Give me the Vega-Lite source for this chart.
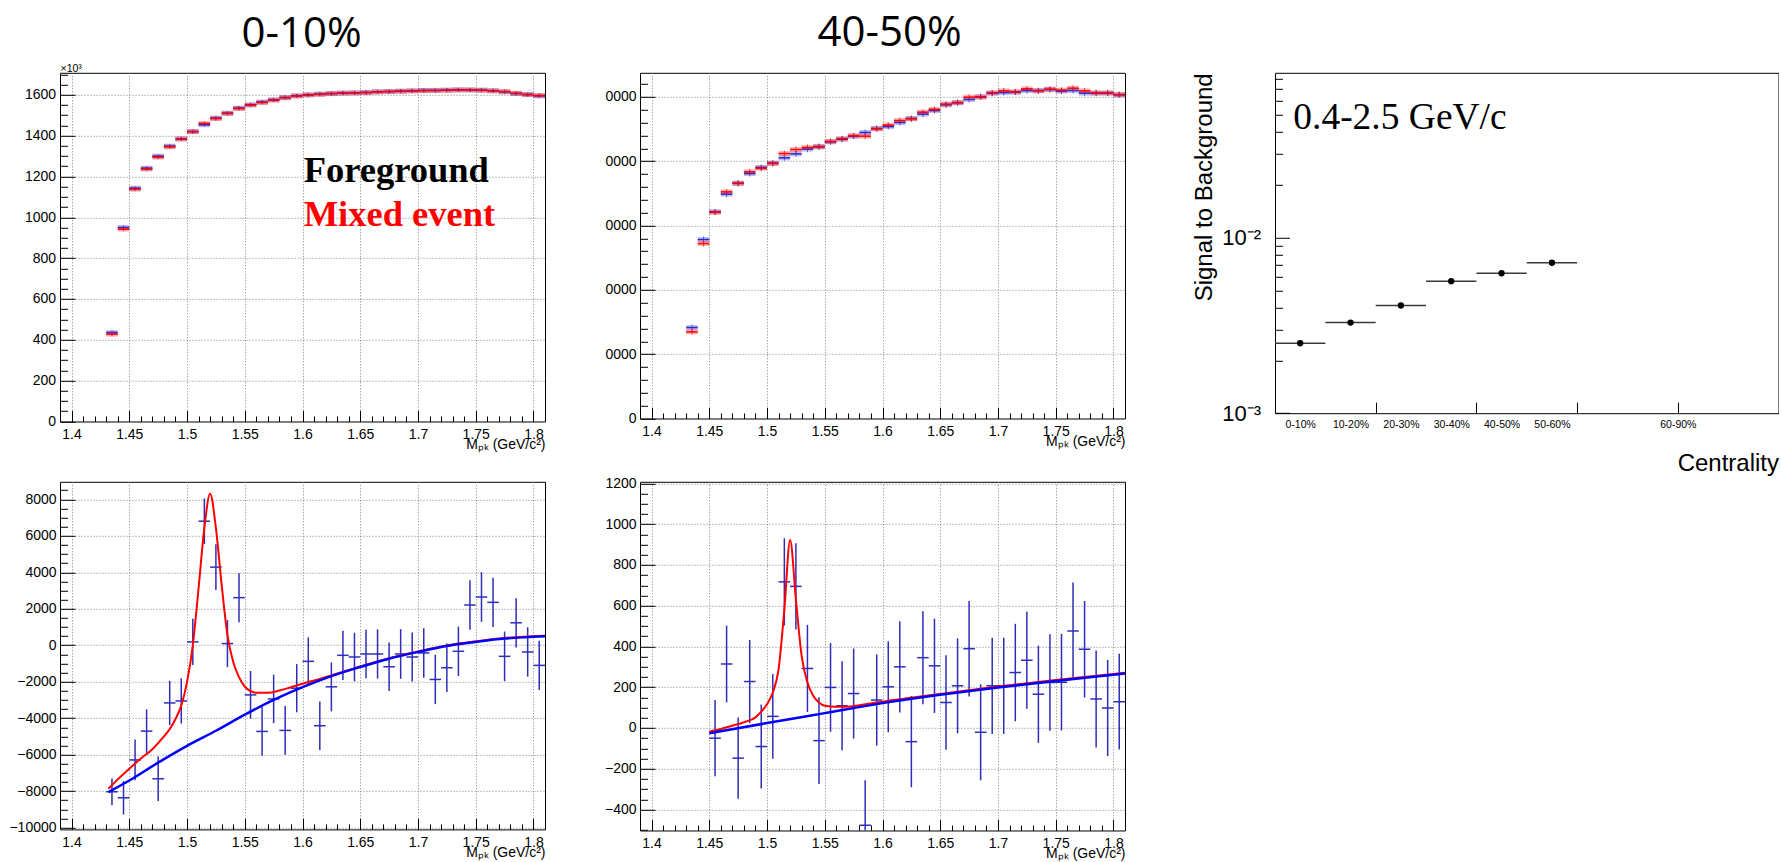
{
"$schema": "https://vega.github.io/schema/vega-lite/v6.json",
"background": "white",
"padding": {"left": 8, "top": 10.8, "right": 0, "bottom": 0},
"bounds": "flush",
"align": "each",
"columns": 5,
"spacing": {"row": 60, "column": 0},
"datasets": {
"p1": [
{"s":"F","x0":1.43,"x1":1.44,"m":1.435,"v":435.9},{"s":"F","x0":1.44,"x1":1.45,"m":1.445,"v":950.2},{"s":"F","x0":1.45,"x1":1.46,"m":1.455,"v":1142.9},{"s":"F","x0":1.46,"x1":1.47,"m":1.465,"v":1240.8},{"s":"F","x0":1.47,"x1":1.48,"m":1.475,"v":1299.6},{"s":"F","x0":1.48,"x1":1.49,"m":1.485,"v":1348.6},{"s":"F","x0":1.49,"x1":1.5,"m":1.495,"v":1384.5},{"s":"F","x0":1.5,"x1":1.51,"m":1.505,"v":1420.4},{"s":"F","x0":1.51,"x1":1.52,"m":1.515,"v":1453},{"s":"F","x0":1.52,"x1":1.53,"m":1.525,"v":1485.7},{"s":"F","x0":1.53,"x1":1.54,"m":1.535,"v":1510.2},{"s":"F","x0":1.54,"x1":1.55,"m":1.545,"v":1534.7},{"s":"F","x0":1.55,"x1":1.56,"m":1.555,"v":1551},{"s":"F","x0":1.56,"x1":1.57,"m":1.565,"v":1564.1},{"s":"F","x0":1.57,"x1":1.58,"m":1.575,"v":1575.5},{"s":"F","x0":1.58,"x1":1.59,"m":1.585,"v":1587},{"s":"F","x0":1.59,"x1":1.6,"m":1.595,"v":1595.1},{"s":"F","x0":1.6,"x1":1.61,"m":1.605,"v":1600},{"s":"F","x0":1.61,"x1":1.62,"m":1.615,"v":1603.3},{"s":"F","x0":1.62,"x1":1.63,"m":1.625,"v":1606.5},{"s":"F","x0":1.63,"x1":1.64,"m":1.635,"v":1608.2},{"s":"F","x0":1.64,"x1":1.65,"m":1.645,"v":1609.8},{"s":"F","x0":1.65,"x1":1.66,"m":1.655,"v":1611.4},{"s":"F","x0":1.66,"x1":1.67,"m":1.665,"v":1614.7},{"s":"F","x0":1.67,"x1":1.68,"m":1.675,"v":1616.3},{"s":"F","x0":1.68,"x1":1.69,"m":1.685,"v":1618},{"s":"F","x0":1.69,"x1":1.7,"m":1.695,"v":1619.6},{"s":"F","x0":1.7,"x1":1.71,"m":1.705,"v":1621.2},{"s":"F","x0":1.71,"x1":1.72,"m":1.715,"v":1621.2},{"s":"F","x0":1.72,"x1":1.73,"m":1.725,"v":1622.9},{"s":"F","x0":1.73,"x1":1.74,"m":1.735,"v":1624.5},{"s":"F","x0":1.74,"x1":1.75,"m":1.745,"v":1623.7},{"s":"F","x0":1.75,"x1":1.76,"m":1.755,"v":1622.9},{"s":"F","x0":1.76,"x1":1.77,"m":1.765,"v":1619.6},{"s":"F","x0":1.77,"x1":1.78,"m":1.775,"v":1614.7},{"s":"F","x0":1.78,"x1":1.79,"m":1.785,"v":1606.5},{"s":"F","x0":1.79,"x1":1.8,"m":1.795,"v":1601.6},{"s":"F","x0":1.8,"x1":1.81,"m":1.805,"v":1595.1},
{"s":"M","x0":1.43,"x1":1.44,"m":1.435,"v":427.8},{"s":"M","x0":1.44,"x1":1.45,"m":1.445,"v":942},{"s":"M","x0":1.45,"x1":1.46,"m":1.455,"v":1138},{"s":"M","x0":1.46,"x1":1.47,"m":1.465,"v":1236},{"s":"M","x0":1.47,"x1":1.48,"m":1.475,"v":1294.7},{"s":"M","x0":1.48,"x1":1.49,"m":1.485,"v":1345.3},{"s":"M","x0":1.49,"x1":1.5,"m":1.495,"v":1383},{"s":"M","x0":1.5,"x1":1.51,"m":1.505,"v":1419},{"s":"M","x0":1.51,"x1":1.52,"m":1.515,"v":1459.6},{"s":"M","x0":1.52,"x1":1.53,"m":1.525,"v":1484},{"s":"M","x0":1.53,"x1":1.54,"m":1.535,"v":1508.6},{"s":"M","x0":1.54,"x1":1.55,"m":1.545,"v":1533},{"s":"M","x0":1.55,"x1":1.56,"m":1.555,"v":1549.4},{"s":"M","x0":1.56,"x1":1.57,"m":1.565,"v":1562.5},{"s":"M","x0":1.57,"x1":1.58,"m":1.575,"v":1574},{"s":"M","x0":1.58,"x1":1.59,"m":1.585,"v":1585.3},{"s":"M","x0":1.59,"x1":1.6,"m":1.595,"v":1594},{"s":"M","x0":1.6,"x1":1.61,"m":1.605,"v":1599},{"s":"M","x0":1.61,"x1":1.62,"m":1.615,"v":1602.5},{"s":"M","x0":1.62,"x1":1.63,"m":1.625,"v":1605.7},{"s":"M","x0":1.63,"x1":1.64,"m":1.635,"v":1608.6},{"s":"M","x0":1.64,"x1":1.65,"m":1.645,"v":1609},{"s":"M","x0":1.65,"x1":1.66,"m":1.655,"v":1611},{"s":"M","x0":1.66,"x1":1.67,"m":1.665,"v":1614},{"s":"M","x0":1.67,"x1":1.68,"m":1.675,"v":1615.5},{"s":"M","x0":1.68,"x1":1.69,"m":1.685,"v":1617},{"s":"M","x0":1.69,"x1":1.7,"m":1.695,"v":1619},{"s":"M","x0":1.7,"x1":1.71,"m":1.705,"v":1620.8},{"s":"M","x0":1.71,"x1":1.72,"m":1.715,"v":1621.5},{"s":"M","x0":1.72,"x1":1.73,"m":1.725,"v":1622},{"s":"M","x0":1.73,"x1":1.74,"m":1.735,"v":1623.7},{"s":"M","x0":1.74,"x1":1.75,"m":1.745,"v":1624},{"s":"M","x0":1.75,"x1":1.76,"m":1.755,"v":1622},{"s":"M","x0":1.76,"x1":1.77,"m":1.765,"v":1620},{"s":"M","x0":1.77,"x1":1.78,"m":1.775,"v":1615.5},{"s":"M","x0":1.78,"x1":1.79,"m":1.785,"v":1607},{"s":"M","x0":1.79,"x1":1.8,"m":1.795,"v":1600.8},{"s":"M","x0":1.8,"x1":1.81,"m":1.805,"v":1596}
],
"p2": [
{"s":"F","x0":1.43,"x1":1.44,"m":1.435,"v":1.414},{"s":"F","x0":1.44,"x1":1.45,"m":1.445,"v":2.782},{"s":"F","x0":1.45,"x1":1.46,"m":1.455,"v":3.212},{"s":"F","x0":1.46,"x1":1.47,"m":1.465,"v":3.487},{"s":"F","x0":1.47,"x1":1.48,"m":1.475,"v":3.658},{"s":"F","x0":1.48,"x1":1.49,"m":1.485,"v":3.808},{"s":"F","x0":1.49,"x1":1.5,"m":1.495,"v":3.902},{"s":"F","x0":1.5,"x1":1.51,"m":1.505,"v":3.969},{"s":"F","x0":1.51,"x1":1.52,"m":1.515,"v":4.052},{"s":"F","x0":1.52,"x1":1.53,"m":1.525,"v":4.114},{"s":"F","x0":1.53,"x1":1.54,"m":1.535,"v":4.187},{"s":"F","x0":1.54,"x1":1.55,"m":1.545,"v":4.223},{"s":"F","x0":1.55,"x1":1.56,"m":1.555,"v":4.301},{"s":"F","x0":1.56,"x1":1.57,"m":1.565,"v":4.342},{"s":"F","x0":1.57,"x1":1.58,"m":1.575,"v":4.389},{"s":"F","x0":1.58,"x1":1.59,"m":1.585,"v":4.446},{"s":"F","x0":1.59,"x1":1.6,"m":1.595,"v":4.508},{"s":"F","x0":1.6,"x1":1.61,"m":1.605,"v":4.539},{"s":"F","x0":1.61,"x1":1.62,"m":1.615,"v":4.601},{"s":"F","x0":1.62,"x1":1.63,"m":1.625,"v":4.663},{"s":"F","x0":1.63,"x1":1.64,"m":1.635,"v":4.731},{"s":"F","x0":1.64,"x1":1.65,"m":1.645,"v":4.788},{"s":"F","x0":1.65,"x1":1.66,"m":1.655,"v":4.876},{"s":"F","x0":1.66,"x1":1.67,"m":1.665,"v":4.907},{"s":"F","x0":1.67,"x1":1.68,"m":1.675,"v":4.959},{"s":"F","x0":1.68,"x1":1.69,"m":1.685,"v":5.0},{"s":"F","x0":1.69,"x1":1.7,"m":1.695,"v":5.057},{"s":"F","x0":1.7,"x1":1.71,"m":1.705,"v":5.067},{"s":"F","x0":1.71,"x1":1.72,"m":1.715,"v":5.073},{"s":"F","x0":1.72,"x1":1.73,"m":1.725,"v":5.098},{"s":"F","x0":1.73,"x1":1.74,"m":1.735,"v":5.098},{"s":"F","x0":1.74,"x1":1.75,"m":1.745,"v":5.114},{"s":"F","x0":1.75,"x1":1.76,"m":1.755,"v":5.088},{"s":"F","x0":1.76,"x1":1.77,"m":1.765,"v":5.098},{"s":"F","x0":1.77,"x1":1.78,"m":1.775,"v":5.057},{"s":"F","x0":1.78,"x1":1.79,"m":1.785,"v":5.057},{"s":"F","x0":1.79,"x1":1.8,"m":1.795,"v":5.057},{"s":"F","x0":1.8,"x1":1.81,"m":1.805,"v":5.031},
{"s":"M","x0":1.43,"x1":1.44,"m":1.435,"v":1.347},{"s":"M","x0":1.44,"x1":1.45,"m":1.445,"v":2.72},{"s":"M","x0":1.45,"x1":1.46,"m":1.455,"v":3.207},{"s":"M","x0":1.46,"x1":1.47,"m":1.465,"v":3.523},{"s":"M","x0":1.47,"x1":1.48,"m":1.475,"v":3.655},{"s":"M","x0":1.48,"x1":1.49,"m":1.485,"v":3.834},{"s":"M","x0":1.49,"x1":1.5,"m":1.495,"v":3.891},{"s":"M","x0":1.5,"x1":1.51,"m":1.505,"v":3.965},{"s":"M","x0":1.51,"x1":1.52,"m":1.515,"v":4.119},{"s":"M","x0":1.52,"x1":1.53,"m":1.525,"v":4.181},{"s":"M","x0":1.53,"x1":1.54,"m":1.535,"v":4.212},{"s":"M","x0":1.54,"x1":1.55,"m":1.545,"v":4.228},{"s":"M","x0":1.55,"x1":1.56,"m":1.555,"v":4.306},{"s":"M","x0":1.56,"x1":1.57,"m":1.565,"v":4.35},{"s":"M","x0":1.57,"x1":1.58,"m":1.575,"v":4.395},{"s":"M","x0":1.58,"x1":1.59,"m":1.585,"v":4.389},{"s":"M","x0":1.59,"x1":1.6,"m":1.595,"v":4.503},{"s":"M","x0":1.6,"x1":1.61,"m":1.605,"v":4.56},{"s":"M","x0":1.61,"x1":1.62,"m":1.615,"v":4.632},{"s":"M","x0":1.62,"x1":1.63,"m":1.625,"v":4.66},{"s":"M","x0":1.63,"x1":1.64,"m":1.635,"v":4.762},{"s":"M","x0":1.64,"x1":1.65,"m":1.645,"v":4.803},{"s":"M","x0":1.65,"x1":1.66,"m":1.655,"v":4.886},{"s":"M","x0":1.66,"x1":1.67,"m":1.665,"v":4.912},{"s":"M","x0":1.67,"x1":1.68,"m":1.675,"v":4.995},{"s":"M","x0":1.68,"x1":1.69,"m":1.685,"v":5.0},{"s":"M","x0":1.69,"x1":1.7,"m":1.695,"v":5.062},{"s":"M","x0":1.7,"x1":1.71,"m":1.705,"v":5.093},{"s":"M","x0":1.71,"x1":1.72,"m":1.715,"v":5.078},{"s":"M","x0":1.72,"x1":1.73,"m":1.725,"v":5.124},{"s":"M","x0":1.73,"x1":1.74,"m":1.735,"v":5.093},{"s":"M","x0":1.74,"x1":1.75,"m":1.745,"v":5.119},{"s":"M","x0":1.75,"x1":1.76,"m":1.755,"v":5.104},{"s":"M","x0":1.76,"x1":1.77,"m":1.765,"v":5.135},{"s":"M","x0":1.77,"x1":1.78,"m":1.775,"v":5.093},{"s":"M","x0":1.78,"x1":1.79,"m":1.785,"v":5.062},{"s":"M","x0":1.79,"x1":1.8,"m":1.795,"v":5.062},{"s":"M","x0":1.8,"x1":1.81,"m":1.805,"v":5.036}
],
"p3": [
{"c":5,"lo":0,"hi":10,"v":0.0025},{"c":15,"lo":10,"hi":20,"v":0.00328},{"c":25,"lo":20,"hi":30,"v":0.0041},{"c":35,"lo":30,"hi":40,"v":0.00564},{"c":45,"lo":40,"hi":50,"v":0.00626},{"c":55,"lo":50,"hi":60,"v":0.00718}
],
"p4": [
{"x0":1.43,"x1":1.44,"m":1.435,"v":-8037,"lo":-8772,"hi":-7302},{"x0":1.44,"x1":1.45,"m":1.445,"v":-8368,"lo":-9288,"hi":-7448},{"x0":1.45,"x1":1.46,"m":1.455,"v":-6290,"lo":-7410,"hi":-5170},{"x0":1.46,"x1":1.47,"m":1.465,"v":-4708,"lo":-5903,"hi":-3513},{"x0":1.47,"x1":1.48,"m":1.475,"v":-7320,"lo":-8540,"hi":-6100},{"x0":1.48,"x1":1.49,"m":1.485,"v":-3163,"lo":-4378,"hi":-1948},{"x0":1.49,"x1":1.5,"m":1.495,"v":-3053,"lo":-4293,"hi":-1813},{"x0":1.5,"x1":1.51,"m":1.505,"v":184,"lo":-1086,"hi":1454},{"x0":1.51,"x1":1.52,"m":1.515,"v":6805,"lo":5555,"hi":8055},{"x0":1.52,"x1":1.53,"m":1.525,"v":4285,"lo":3035,"hi":5535},{"x0":1.53,"x1":1.54,"m":1.535,"v":92,"lo":-1198,"hi":1382},{"x0":1.54,"x1":1.55,"m":1.545,"v":2611,"lo":1266,"hi":3956},{"x0":1.55,"x1":1.56,"m":1.555,"v":-2722,"lo":-4032,"hi":-1412},{"x0":1.56,"x1":1.57,"m":1.565,"v":-4726,"lo":-6059,"hi":-3393},{"x0":1.57,"x1":1.58,"m":1.575,"v":-2943,"lo":-4276,"hi":-1610},{"x0":1.58,"x1":1.59,"m":1.585,"v":-4671,"lo":-6004,"hi":-3338},{"x0":1.59,"x1":1.6,"m":1.595,"v":-2354,"lo":-3678,"hi":-1030},{"x0":1.6,"x1":1.61,"m":1.605,"v":-883,"lo":-2198,"hi":432},{"x0":1.61,"x1":1.62,"m":1.615,"v":-4414,"lo":-5738,"hi":-3090},{"x0":1.62,"x1":1.63,"m":1.625,"v":-2280,"lo":-3622,"hi":-938},{"x0":1.63,"x1":1.64,"m":1.635,"v":-552,"lo":-1902,"hi":798},{"x0":1.64,"x1":1.65,"m":1.645,"v":-644,"lo":-1977,"hi":689},{"x0":1.65,"x1":1.66,"m":1.655,"v":-478,"lo":-1811,"hi":855},{"x0":1.66,"x1":1.67,"m":1.665,"v":-478,"lo":-1828,"hi":872},{"x0":1.67,"x1":1.68,"m":1.675,"v":-1177,"lo":-2510,"hi":156},{"x0":1.68,"x1":1.69,"m":1.685,"v":-478,"lo":-1838,"hi":882},{"x0":1.69,"x1":1.7,"m":1.695,"v":-644,"lo":-1987,"hi":699},{"x0":1.7,"x1":1.71,"m":1.705,"v":-423,"lo":-1783,"hi":937},{"x0":1.71,"x1":1.72,"m":1.715,"v":-1876,"lo":-3228,"hi":-524},{"x0":1.72,"x1":1.73,"m":1.725,"v":-1232,"lo":-2565,"hi":101},{"x0":1.73,"x1":1.74,"m":1.735,"v":-331,"lo":-1683,"hi":1021},{"x0":1.74,"x1":1.75,"m":1.745,"v":2207,"lo":855,"hi":3559},{"x0":1.75,"x1":1.76,"m":1.755,"v":2648,"lo":1288,"hi":4008},{"x0":1.76,"x1":1.77,"m":1.765,"v":2354,"lo":1002,"hi":3706},{"x0":1.77,"x1":1.78,"m":1.775,"v":-607,"lo":-1967,"hi":753},{"x0":1.78,"x1":1.79,"m":1.785,"v":1232,"lo":-120,"hi":2584},{"x0":1.79,"x1":1.8,"m":1.795,"v":-368,"lo":-1720,"hi":984},{"x0":1.8,"x1":1.81,"m":1.805,"v":-1103,"lo":-2455,"hi":249}
],
"p4b": [
{"x":1.432,"y":-8055},{"x":1.45,"y":-7419},{"x":1.475,"y":-6437},{"x":1.5,"y":-5517},{"x":1.525,"y":-4690},{"x":1.55,"y":-3807},{"x":1.575,"y":-2998},{"x":1.6,"y":-2299},{"x":1.625,"y":-1692},{"x":1.65,"y":-1195},{"x":1.675,"y":-736},{"x":1.7,"y":-368},{"x":1.725,"y":-37},{"x":1.75,"y":184},{"x":1.775,"y":368},{"x":1.8,"y":460},{"x":1.81,"y":497}
],
"p4s": [
{"x":1.432,"y":-7871},{"x":1.44,"y":-7356},{"x":1.45,"y":-6768},{"x":1.46,"y":-6216},{"x":1.47,"y":-5701},{"x":1.48,"y":-5002},{"x":1.485,"y":-4598},{"x":1.49,"y":-4046},{"x":1.495,"y":-3310},{"x":1.5,"y":-2023},{"x":1.505,"y":0},{"x":1.51,"y":3126},{"x":1.515,"y":6437},{"x":1.52,"y":8313},{"x":1.525,"y":6437},{"x":1.53,"y":3310},{"x":1.535,"y":552},{"x":1.54,"y":-920},{"x":1.545,"y":-1747},{"x":1.55,"y":-2262},{"x":1.555,"y":-2520},{"x":1.56,"y":-2611},{"x":1.57,"y":-2611},{"x":1.58,"y":-2483},{"x":1.59,"y":-2299},{"x":1.6,"y":-2115},{"x":1.625,"y":-1655},{"x":1.65,"y":-1159},{"x":1.675,"y":-706},{"x":1.7,"y":-338},{"x":1.725,"y":-7},{"x":1.75,"y":214},{"x":1.775,"y":398},{"x":1.8,"y":490},{"x":1.81,"y":527}
],
"p5": [
{"x0":1.45,"x1":1.46,"m":1.455,"v":-50,"lo":-237,"hi":137},{"x0":1.46,"x1":1.47,"m":1.465,"v":314,"lo":126,"hi":502},{"x0":1.47,"x1":1.48,"m":1.475,"v":-148,"lo":-347,"hi":51},{"x0":1.48,"x1":1.49,"m":1.485,"v":228,"lo":24,"hi":432},{"x0":1.49,"x1":1.5,"m":1.495,"v":-91,"lo":-297,"hi":115},{"x0":1.5,"x1":1.51,"m":1.505,"v":57,"lo":-151,"hi":265},{"x0":1.51,"x1":1.52,"m":1.515,"v":717,"lo":503,"hi":931},{"x0":1.52,"x1":1.53,"m":1.525,"v":695,"lo":483,"hi":907},{"x0":1.53,"x1":1.54,"m":1.535,"v":292,"lo":78,"hi":506},{"x0":1.54,"x1":1.55,"m":1.545,"v":-62,"lo":-275,"hi":151},{"x0":1.55,"x1":1.56,"m":1.555,"v":199,"lo":-19,"hi":417},{"x0":1.56,"x1":1.57,"m":1.565,"v":109,"lo":-109,"hi":327},{"x0":1.57,"x1":1.58,"m":1.575,"v":169,"lo":-52,"hi":390},{"x0":1.58,"x1":1.59,"m":1.585,"v":-477,"lo":-697,"hi":-257},{"x0":1.59,"x1":1.6,"m":1.595,"v":137,"lo":-87,"hi":361},{"x0":1.6,"x1":1.61,"m":1.605,"v":202,"lo":-21,"hi":425},{"x0":1.61,"x1":1.62,"m":1.615,"v":300,"lo":76,"hi":524},{"x0":1.62,"x1":1.63,"m":1.625,"v":-67,"lo":-291,"hi":157},{"x0":1.63,"x1":1.64,"m":1.635,"v":345,"lo":117,"hi":573},{"x0":1.64,"x1":1.65,"m":1.645,"v":305,"lo":74,"hi":536},{"x0":1.65,"x1":1.66,"m":1.655,"v":125,"lo":-107,"hi":357},{"x0":1.66,"x1":1.67,"m":1.665,"v":207,"lo":-26,"hi":440},{"x0":1.67,"x1":1.68,"m":1.675,"v":389,"lo":155,"hi":623},{"x0":1.68,"x1":1.69,"m":1.685,"v":-21,"lo":-257,"hi":215},{"x0":1.69,"x1":1.7,"m":1.695,"v":207,"lo":-29,"hi":443},{"x0":1.7,"x1":1.71,"m":1.705,"v":207,"lo":-29,"hi":443},{"x0":1.71,"x1":1.72,"m":1.715,"v":272,"lo":33,"hi":511},{"x0":1.72,"x1":1.73,"m":1.725,"v":332,"lo":94,"hi":570},{"x0":1.73,"x1":1.74,"m":1.735,"v":166,"lo":-72,"hi":404},{"x0":1.74,"x1":1.75,"m":1.745,"v":223,"lo":-14,"hi":460},{"x0":1.75,"x1":1.76,"m":1.755,"v":225,"lo":-12,"hi":462},{"x0":1.76,"x1":1.77,"m":1.765,"v":476,"lo":238,"hi":714},{"x0":1.77,"x1":1.78,"m":1.775,"v":386,"lo":149,"hi":623},{"x0":1.78,"x1":1.79,"m":1.785,"v":142,"lo":-96,"hi":380},{"x0":1.79,"x1":1.8,"m":1.795,"v":98,"lo":-138,"hi":334},{"x0":1.8,"x1":1.81,"m":1.805,"v":129,"lo":-106,"hi":364}
],
"p5b": [
{"x":1.45,"y":-26},{"x":1.5,"y":24},{"x":1.55,"y":73},{"x":1.6,"y":122},{"x":1.65,"y":163},{"x":1.7,"y":199},{"x":1.75,"y":231},{"x":1.8,"y":261},{"x":1.81,"y":267}
],
"p5s": [
{"x":1.45,"y":-18},{"x":1.46,"y":-5},{"x":1.47,"y":11},{"x":1.48,"y":28},{"x":1.49,"y":52},{"x":1.495,"y":80},{"x":1.5,"y":117},{"x":1.505,"y":174},{"x":1.51,"y":288},{"x":1.515,"y":581},{"x":1.52,"y":923},{"x":1.525,"y":630},{"x":1.53,"y":353},{"x":1.535,"y":223},{"x":1.54,"y":158},{"x":1.545,"y":125},{"x":1.55,"y":109},{"x":1.56,"y":104},{"x":1.57,"y":104},{"x":1.58,"y":112},{"x":1.6,"y":129},{"x":1.65,"y":167},{"x":1.7,"y":203},{"x":1.75,"y":235},{"x":1.8,"y":265},{"x":1.81,"y":271}
]
},
"concat": [
{
"width": 485, "height": 348.7,
"title": {"text": "0-10%", "dx": -1, "frame": "group", "offset": 7},
"resolve": {"axis": {"x": "independent", "y": "independent"}},
"layer": [
{"data": {"name": "p1"}, "mark": {"type": "rule", "strokeWidth": 5, "opacity": 0.3},
"encoding": {
"x": {"field": "x0", "type": "quantitative", "scale": {"domain": [1.39, 1.81], "nice": false, "zero": false},
"axis": {"orient": "bottom", "grid": true, "values": [1.4,1.45,1.5,1.55,1.6,1.65,1.7,1.75,1.8], "format": ".2~f", "tickSize": -11, "labelPadding": 17, "title": "Mₚₖ (GeV/c²)", "titleAnchor": "end", "titleAlign": "right", "titleBaseline": "alphabetic", "titleX": 485, "titleY": 27.5}},
"x2": {"field": "x1"},
"y": {"field": "v", "type": "quantitative", "scale": {"domain": [0, 1707.7], "nice": false, "zero": false},
"axis": {"orient": "left", "grid": true, "values": [0,200,400,600,800,1000,1200,1400,1600], "format": "d", "tickSize": -15, "labelPadding": 19.5, "title": "×10³", "titleAngle": 0, "titleX": 0, "titleY": -1.5, "titleAlign": "left", "titleBaseline": "alphabetic", "titleFontSize": 10.5}},
"color": {"field": "s", "type": "nominal", "scale": {"domain": ["F", "M"], "range": ["#2a2ad0", "#ff0000"]}, "legend": null}
}},
{"data": {"name": "p1"}, "mark": {"type": "rule", "strokeWidth": 1.5},
"encoding": {
"x": {"field": "x0", "type": "quantitative", "scale": {"domain": [1.39, 1.81], "nice": false, "zero": false},
"axis": {"orient": "bottom", "values": [1.41,1.42,1.43,1.44,1.46,1.47,1.48,1.49,1.51,1.52,1.53,1.54,1.56,1.57,1.58,1.59,1.61,1.62,1.63,1.64,1.66,1.67,1.68,1.69,1.71,1.72,1.73,1.74,1.76,1.77,1.78,1.79], "labels": false, "tickSize": -5.5, "title": null}},
"x2": {"field": "x1"},
"y": {"field": "v", "type": "quantitative", "scale": {"domain": [0, 1707.7], "nice": false, "zero": false},
"axis": {"orient": "left", "values": [50,100,150,250,300,350,450,500,550,650,700,750,850,900,950,1050,1100,1150,1250,1300,1350,1450,1500,1550,1650,1700], "labels": false, "tickSize": -7.5, "title": null}},
"color": {"field": "s", "type": "nominal", "scale": {"domain": ["F", "M"], "range": ["#2a2ad0", "#ff0000"]}, "legend": null}
}},
{"data": {"name": "p1"}, "mark": {"type": "tick", "orient": "vertical", "size": 4, "thickness": 1},
"encoding": {
"x": {"field": "m", "type": "quantitative", "scale": {"domain": [1.39, 1.81], "nice": false, "zero": false}, "axis": null},
"y": {"field": "v", "type": "quantitative", "scale": {"domain": [0, 1707.7], "nice": false, "zero": false}, "axis": null},
"color": {"field": "s", "type": "nominal", "scale": {"domain": ["F", "M"], "range": ["#2a2ad0", "#ff0000"]}, "legend": null}
}},
{"data": {"values": [{"t": "Foreground", "x": 1.601, "y": 1175}]}, "mark": {"type": "text", "font": "Liberation Serif", "fontWeight": "bold", "fontSize": 36.5, "align": "left", "baseline": "alphabetic", "color": "#000000"},
"encoding": {
"x": {"field": "x", "type": "quantitative", "scale": {"domain": [1.39, 1.81], "nice": false, "zero": false}, "axis": null},
"y": {"field": "y", "type": "quantitative", "scale": {"domain": [0, 1707.7], "nice": false, "zero": false}, "axis": null},
"text": {"field": "t"}
}},
{"data": {"values": [{"t": "Mixed event", "x": 1.601, "y": 958}]}, "mark": {"type": "text", "font": "Liberation Serif", "fontWeight": "bold", "fontSize": 36.5, "align": "left", "baseline": "alphabetic", "color": "#ff0000"},
"encoding": {
"x": {"field": "x", "type": "quantitative", "scale": {"domain": [1.39, 1.81], "nice": false, "zero": false}, "axis": null},
"y": {"field": "y", "type": "quantitative", "scale": {"domain": [0, 1707.7], "nice": false, "zero": false}, "axis": null},
"text": {"field": "t"}
}}
]
},
{"width": 95, "height": 10, "data": {"values": []}, "mark": "point", "view": {"stroke": null}},
{
"width": 485, "height": 345.7,
"title": {"text": "40-50%", "dx": 7, "frame": "group", "offset": 17.6},
"resolve": {"axis": {"x": "independent", "y": "independent"}},
"layer": [
{"data": {"name": "p2"}, "mark": {"type": "rule", "strokeWidth": 5, "opacity": 0.3},
"encoding": {
"x": {"field": "x0", "type": "quantitative", "scale": {"domain": [1.39, 1.81], "nice": false, "zero": false},
"axis": {"orient": "bottom", "grid": true, "values": [1.4,1.45,1.5,1.55,1.6,1.65,1.7,1.75,1.8], "format": ".2~f", "tickSize": -11, "labelPadding": 17, "title": "Mₚₖ (GeV/c²)", "titleAnchor": "end", "titleAlign": "right", "titleBaseline": "alphabetic", "titleX": 485, "titleY": 27.5}},
"x2": {"field": "x1"},
"y": {"field": "v", "type": "quantitative", "scale": {"domain": [0, 5.374], "nice": false, "zero": false},
"axis": {"orient": "left", "grid": true, "values": [0,1,2,3,4,5], "labelExpr": "datum.value == 0 ? '0' : '0000'", "tickSize": -15, "labelPadding": 19, "title": null}},
"color": {"field": "s", "type": "nominal", "scale": {"domain": ["F", "M"], "range": ["#2a2ad0", "#ff0000"]}, "legend": null}
}},
{"data": {"name": "p2"}, "mark": {"type": "rule", "strokeWidth": 1.5},
"encoding": {
"x": {"field": "x0", "type": "quantitative", "scale": {"domain": [1.39, 1.81], "nice": false, "zero": false},
"axis": {"orient": "bottom", "values": [1.41,1.42,1.43,1.44,1.46,1.47,1.48,1.49,1.51,1.52,1.53,1.54,1.56,1.57,1.58,1.59,1.61,1.62,1.63,1.64,1.66,1.67,1.68,1.69,1.71,1.72,1.73,1.74,1.76,1.77,1.78,1.79], "labels": false, "tickSize": -5.5, "title": null}},
"x2": {"field": "x1"},
"y": {"field": "v", "type": "quantitative", "scale": {"domain": [0, 5.374], "nice": false, "zero": false},
"axis": {"orient": "left", "values": [0.2,0.4,0.6,0.8,1.2,1.4,1.6,1.8,2.2,2.4,2.6,2.8,3.2,3.4,3.6,3.8,4.2,4.4,4.6,4.8,5.2], "labels": false, "tickSize": -7.5, "title": null}},
"color": {"field": "s", "type": "nominal", "scale": {"domain": ["F", "M"], "range": ["#2a2ad0", "#ff0000"]}, "legend": null}
}},
{"data": {"name": "p2"}, "mark": {"type": "tick", "orient": "vertical", "size": 6, "thickness": 1},
"encoding": {
"x": {"field": "m", "type": "quantitative", "scale": {"domain": [1.39, 1.81], "nice": false, "zero": false}, "axis": null},
"y": {"field": "v", "type": "quantitative", "scale": {"domain": [0, 5.374], "nice": false, "zero": false}, "axis": null},
"color": {"field": "s", "type": "nominal", "scale": {"domain": ["F", "M"], "range": ["#2a2ad0", "#ff0000"]}, "legend": null}
}}
]
},
{"width": 150, "height": 10, "data": {"values": []}, "mark": "point", "view": {"stroke": null}},
{
"width": 503.5, "height": 340.4,
"resolve": {"axis": {"x": "independent", "y": "independent"}},
"layer": [
{"data": {"name": "p3"}, "mark": {"type": "rule", "color": "#3a3a3a", "strokeWidth": 1.5},
"encoding": {
"x": {"field": "lo", "type": "quantitative", "scale": {"domain": [0, 100], "nice": false, "zero": false},
"axis": {"orient": "bottom", "values": [20,40,60,80], "labels": false, "tickSize": -11, "title": null}},
"x2": {"field": "hi"},
"y": {"field": "v", "type": "quantitative", "scale": {"type": "log", "domain": [0.001, 0.08657], "nice": false},
"axis": {"orient": "left", "values": [0.001, 0.01], "labelExpr": "datum.value < 0.0015 ? '10⁻³' : '10⁻²'", "tickSize": -14.5, "labelPadding": 29, "labelFontSize": 22,
"title": "Signal to Background", "titleFontSize": 24, "titleAngle": 270, "titleAlign": "right", "titleBaseline": "alphabetic", "titleX": -63.5, "titleY": 0}}
}},
{"data": {"name": "p3"}, "mark": {"type": "point", "filled": true, "color": "#000000", "size": 40, "opacity": 1},
"encoding": {
"x": {"field": "c", "type": "quantitative", "scale": {"domain": [0, 100], "nice": false, "zero": false},
"axis": {"orient": "bottom", "values": [5,15,25,35,45,55,80], "labelExpr": "datum.value==5?'0-10%':datum.value==15?'10-20%':datum.value==25?'20-30%':datum.value==35?'30-40%':datum.value==45?'40-50%':datum.value==55?'50-60%':'60-90%'", "ticks": false, "labelPadding": 6, "labelFontSize": 10.5,
"title": "Centrality", "titleFontSize": 24, "titleAnchor": "end", "titleAlign": "right", "titleBaseline": "alphabetic", "titleX": 503.5, "titleY": 57.6}},
"y": {"field": "v", "type": "quantitative", "scale": {"type": "log", "domain": [0.001, 0.08657], "nice": false},
"axis": {"orient": "left", "values": [0.002,0.003,0.004,0.005,0.006,0.007,0.008,0.009,0.02,0.03,0.04,0.05,0.06,0.07,0.08], "labels": false, "tickSize": -7.5, "title": null}}
}},
{"data": {"values": [{"t": "0.4-2.5 GeV/c", "x": 3.63, "y": 0.0417}]}, "mark": {"type": "text", "font": "Liberation Serif", "fontSize": 37.5, "align": "left", "baseline": "alphabetic", "color": "#000000"},
"encoding": {
"x": {"field": "x", "type": "quantitative", "scale": {"domain": [0, 100], "nice": false, "zero": false}, "axis": null},
"y": {"field": "y", "type": "quantitative", "scale": {"type": "log", "domain": [0.001, 0.08657], "nice": false}, "axis": null},
"text": {"field": "t"}
}}
]
},
{
"width": 485, "height": 347.6,
"resolve": {"axis": {"x": "independent", "y": "independent"}},
"layer": [
{"data": {"name": "p4"}, "mark": {"type": "rule", "strokeWidth": 1.5, "color": "#2e2eb8", "clip": true},
"encoding": {
"x": {"field": "m", "type": "quantitative", "scale": {"domain": [1.39, 1.81], "nice": false, "zero": false},
"axis": {"orient": "bottom", "grid": true, "values": [1.4,1.45,1.5,1.55,1.6,1.65,1.7,1.75,1.8], "format": ".2~f", "tickSize": -11, "labelPadding": 17, "title": "Mₚₖ (GeV/c²)", "titleAnchor": "end", "titleAlign": "right", "titleBaseline": "alphabetic", "titleX": 485, "titleY": 27.5}},
"y": {"field": "lo", "type": "quantitative", "scale": {"domain": [-10099, 8965], "nice": false, "zero": false},
"axis": {"orient": "left", "grid": true, "values": [-10000,-8000,-6000,-4000,-2000,0,2000,4000,6000,8000], "format": "d", "tickSize": -15, "labelPadding": 19, "title": null}},
"y2": {"field": "hi"}
}},
{"data": {"name": "p4"}, "mark": {"type": "rule", "strokeWidth": 1.5, "color": "#2e2eb8", "clip": true},
"encoding": {
"x": {"field": "x0", "type": "quantitative", "scale": {"domain": [1.39, 1.81], "nice": false, "zero": false},
"axis": {"orient": "bottom", "values": [1.41,1.42,1.43,1.44,1.46,1.47,1.48,1.49,1.51,1.52,1.53,1.54,1.56,1.57,1.58,1.59,1.61,1.62,1.63,1.64,1.66,1.67,1.68,1.69,1.71,1.72,1.73,1.74,1.76,1.77,1.78,1.79], "labels": false, "tickSize": -5.5, "title": null}},
"x2": {"field": "x1"},
"y": {"field": "v", "type": "quantitative", "scale": {"domain": [-10099, 8965], "nice": false, "zero": false},
"axis": {"orient": "left", "values": [-9500,-9000,-8500,-7500,-7000,-6500,-5500,-5000,-4500,-3500,-3000,-2500,-1500,-1000,-500,500,1000,1500,2500,3000,3500,4500,5000,5500,6500,7000,7500,8500], "labels": false, "tickSize": -7.5, "title": null}}
}},
{"data": {"name": "p4s"}, "mark": {"type": "line", "color": "#ff0000", "strokeWidth": 2, "interpolate": "monotone"},
"encoding": {
"x": {"field": "x", "type": "quantitative", "scale": {"domain": [1.39, 1.81], "nice": false, "zero": false}, "axis": null},
"y": {"field": "y", "type": "quantitative", "scale": {"domain": [-10099, 8965], "nice": false, "zero": false}, "axis": null}
}},
{"data": {"name": "p4b"}, "mark": {"type": "line", "color": "#0000ff", "strokeWidth": 2.5, "interpolate": "monotone"},
"encoding": {
"x": {"field": "x", "type": "quantitative", "scale": {"domain": [1.39, 1.81], "nice": false, "zero": false}, "axis": null},
"y": {"field": "y", "type": "quantitative", "scale": {"domain": [-10099, 8965], "nice": false, "zero": false}, "axis": null}
}}
]
},
{"width": 95, "height": 10, "data": {"values": []}, "mark": "point", "view": {"stroke": null}},
{
"width": 485, "height": 348.7,
"resolve": {"axis": {"x": "independent", "y": "independent"}},
"layer": [
{"data": {"name": "p5"}, "mark": {"type": "rule", "strokeWidth": 1.5, "color": "#2e2eb8", "clip": true},
"encoding": {
"x": {"field": "m", "type": "quantitative", "scale": {"domain": [1.39, 1.81], "nice": false, "zero": false},
"axis": {"orient": "bottom", "grid": true, "values": [1.4,1.45,1.5,1.55,1.6,1.65,1.7,1.75,1.8], "format": ".2~f", "tickSize": -11, "labelPadding": 17, "title": "Mₚₖ (GeV/c²)", "titleAnchor": "end", "titleAlign": "right", "titleBaseline": "alphabetic", "titleX": 485, "titleY": 27.5}},
"y": {"field": "lo", "type": "quantitative", "scale": {"domain": [-503, 1208], "nice": false, "zero": false},
"axis": {"orient": "left", "grid": true, "values": [-400,-200,0,200,400,600,800,1000,1200], "format": "d", "tickSize": -15, "labelPadding": 19, "title": null}},
"y2": {"field": "hi"}
}},
{"data": {"name": "p5"}, "mark": {"type": "rule", "strokeWidth": 1.5, "color": "#2e2eb8", "clip": true},
"encoding": {
"x": {"field": "x0", "type": "quantitative", "scale": {"domain": [1.39, 1.81], "nice": false, "zero": false},
"axis": {"orient": "bottom", "values": [1.41,1.42,1.43,1.44,1.46,1.47,1.48,1.49,1.51,1.52,1.53,1.54,1.56,1.57,1.58,1.59,1.61,1.62,1.63,1.64,1.66,1.67,1.68,1.69,1.71,1.72,1.73,1.74,1.76,1.77,1.78,1.79], "labels": false, "tickSize": -5.5, "title": null}},
"x2": {"field": "x1"},
"y": {"field": "v", "type": "quantitative", "scale": {"domain": [-503, 1208], "nice": false, "zero": false},
"axis": {"orient": "left", "values": [-500,-350,-300,-250,-150,-100,-50,50,100,150,250,300,350,450,500,550,650,700,750,850,900,950,1050,1100,1150], "labels": false, "tickSize": -7.5, "title": null}}
}},
{"data": {"name": "p5s"}, "mark": {"type": "line", "color": "#ff0000", "strokeWidth": 2, "interpolate": "monotone"},
"encoding": {
"x": {"field": "x", "type": "quantitative", "scale": {"domain": [1.39, 1.81], "nice": false, "zero": false}, "axis": null},
"y": {"field": "y", "type": "quantitative", "scale": {"domain": [-503, 1208], "nice": false, "zero": false}, "axis": null}
}},
{"data": {"name": "p5b"}, "mark": {"type": "line", "color": "#0000ff", "strokeWidth": 2.5, "interpolate": "monotone"},
"encoding": {
"x": {"field": "x", "type": "quantitative", "scale": {"domain": [1.39, 1.81], "nice": false, "zero": false}, "axis": null},
"y": {"field": "y", "type": "quantitative", "scale": {"domain": [-503, 1208], "nice": false, "zero": false}, "axis": null}
}}
]
}
],
"config": {
"font": "Liberation Sans",
"view": {"stroke": "#000000", "strokeWidth": 1},
"axis": {"domain": false, "grid": false, "labelFont": "Liberation Sans", "labelFontSize": 14, "labelColor": "#000000", "tickColor": "#000000", "tickWidth": 1, "titleFont": "Liberation Sans", "titleFontSize": 14, "titleFontWeight": "normal", "titleColor": "#000000", "gridColor": "#808080", "gridDash": [1, 2], "gridWidth": 1, "labelOverlap": false, "labelFlush": false, "labelBound": false},
"title": {"font": "Open Sans", "fontSize": 42, "fontWeight": "normal", "color": "#000000", "anchor": "middle", "baseline": "alphabetic"}
}
}
